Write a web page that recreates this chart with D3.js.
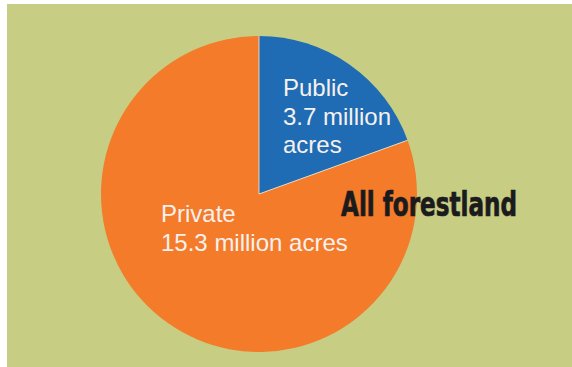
<!DOCTYPE html>
<html>
<head>
<meta charset="utf-8">
<script src="https://cdn.jsdelivr.net/npm/d3@7/dist/d3.min.js"></script>
<style>
  html, body { margin: 0; padding: 0; background: #ffffff; }
  svg { display: block; }
</style>
</head>
<body>
<div id="chart"></div>
<script>
// Forest ownership, million acres
const categories = ["Public", "Private"];
const acres = [3.7, 15.3];
const labelLines = [
  ["Public", "3.7 million", "acres"],
  ["Private", "15.3 million acres"]
];
const chartTitle = "All forestland";

const W = 572, H = 367;
const cx = 259, cy = 194, radius = 158;
const colors = d3.scaleOrdinal().domain(categories).range(["#1f6cb4", "#f47b2a"]);

// label anchor offsets (from pie centre) for the first text line
const labelOffsets = { Public: [24, -98], Private: [-98, 28] };

const svg = d3.select("#chart").append("svg")
  .attr("width", W).attr("height", H);

svg.append("rect")
  .attr("x", 7).attr("y", 4)
  .attr("width", W - 7).attr("height", H - 4)
  .attr("fill", "#c7cd82");

const data = categories.map((c, i) => ({ name: c, value: acres[i], lines: labelLines[i] }));

const pie = d3.pie().value(d => d.value).sort(null);
const arcs = pie(data);
const arc = d3.arc().innerRadius(0).outerRadius(radius);

const g = svg.append("g").attr("transform", `translate(${cx},${cy})`);

g.selectAll("path.slice")
  .data(arcs)
  .join("path")
  .attr("class", "slice")
  .attr("d", arc)
  .attr("fill", d => colors(d.data.name));

// thin light separators along the slice boundaries
g.selectAll("line.sep")
  .data(arcs)
  .join("line")
  .attr("class", "sep")
  .attr("x1", 0).attr("y1", 0)
  .attr("x2", d => radius * Math.sin(d.startAngle))
  .attr("y2", d => -radius * Math.cos(d.startAngle))
  .attr("stroke", "#f3eedc")
  .attr("stroke-width", 0.8);

const labels = g.selectAll("text.lbl")
  .data(data)
  .join("text")
  .attr("class", "lbl")
  .attr("x", d => labelOffsets[d.name][0])
  .attr("y", d => labelOffsets[d.name][1])
  .attr("fill", "#f6f1ee")
  .style("font-family", "'Liberation Sans', Arial, sans-serif")
  .style("font-size", "24px");

labels.selectAll("tspan")
  .data(d => d.lines.map(t => ({ t, x: labelOffsets[d.name][0] })))
  .join("tspan")
  .attr("x", d => d.x)
  .attr("dy", (d, i) => i === 0 ? 0 : 28.5)
  .text(d => d.t);

svg.append("text")
  .attr("x", 341)
  .attr("y", 216)
  .attr("textLength", 176)
  .attr("lengthAdjust", "spacingAndGlyphs")
  .attr("fill", "#1b1a1c")
  .attr("stroke", "#1b1a1c")
  .attr("stroke-width", 0.7)
  .style("font-family", "'DejaVu Sans Condensed', 'DejaVu Sans', sans-serif")
  .style("font-weight", "bold")
  .style("font-size", "33px")
  .text(chartTitle);
</script>
</body>
</html>
